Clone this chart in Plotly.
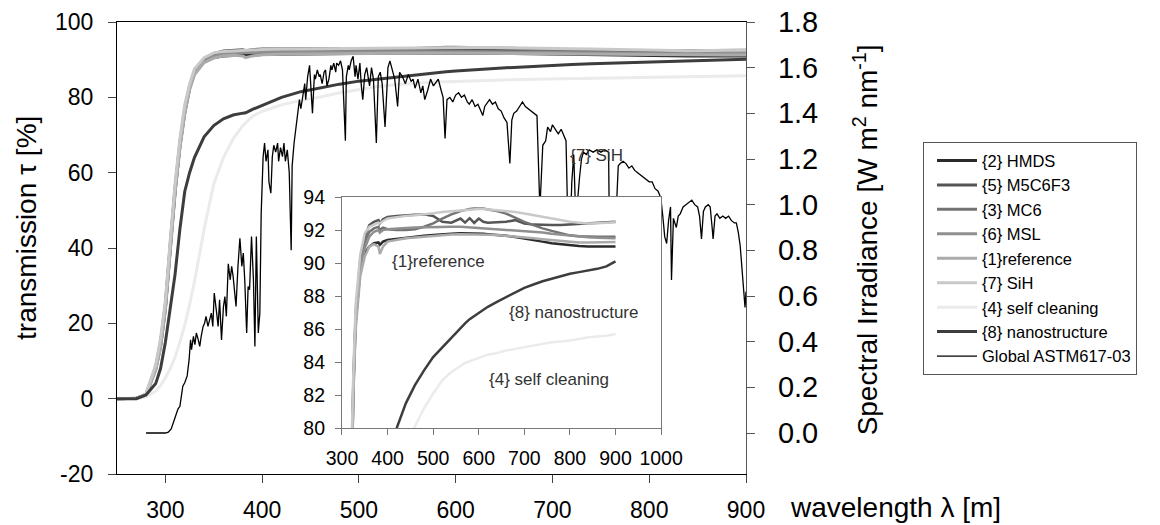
import plotly.graph_objects as go

# ---------------- data ----------------
wl_t = [250, 270, 280, 290, 295, 300, 305, 310, 315, 320, 325, 330, 340, 350, 360, 370, 380, 383, 390, 400,
        420, 440, 460, 480, 500, 520, 540, 560, 570, 580, 590, 600, 610, 620, 640, 660, 680, 700, 720, 740,
        760, 780, 800, 820, 840, 860, 880, 900]

t_hmds = [0, 0.1, 1, 8, 14, 24, 40, 55, 67, 76, 82.5, 86.5, 89.5, 90.6, 91.0, 91.2, 91.25, 91.1, 91.3, 91.4,
          91.47, 91.55, 91.6, 91.65, 91.7, 91.75, 91.78, 91.8, 91.8, 91.8, 91.8, 91.79, 91.77, 91.75, 91.72, 91.65, 91.58, 91.5, 91.4, 91.3,
          91.2, 91.13, 91.07, 91.03, 91.0, 91.0, 91.0, 91.0]
t_m5c6f3 = [0, 0.1, 1.2, 8.5, 15, 25, 41, 56, 68, 77, 83, 87, 90.2, 91.6, 92.3, 92.5, 92.6, 92.4, 92.65, 92.8,
            92.85, 92.9, 92.93, 92.95, 92.85, 92.5, 92.45, 92.7, 92.45, 92.72, 92.43, 92.7, 92.5, 92.45, 92.47, 92.5, 92.6, 92.4, 92.33, 92.3,
            92.3, 92.3, 92.33, 92.36, 92.4, 92.43, 92.47, 92.5]
t_mc6 = [0, 0.1, 1.1, 8, 14.5, 24.5, 40, 55.5, 67.5, 76.5, 82.8, 86.8, 89.9, 91.3, 91.9, 92.1, 92.2, 92.0, 92.15, 92.05,
         92.0, 92.0, 92.05, 92.2, 92.4, 92.7, 92.95, 93.15, 93.22, 93.27, 93.3, 93.32, 93.3, 93.25, 93.15, 93.0, 92.75, 92.5, 92.3, 92.1,
         91.95, 91.8, 91.68, 91.63, 91.6, 91.6, 91.6, 91.6]
t_msl = [0, 0.1, 1, 7.8, 14, 24, 39.5, 55, 67, 76, 82.3, 86.4, 89.6, 90.9, 91.6, 91.9, 92.0, 91.85, 92.0, 92.05,
         92.1, 92.12, 92.15, 92.17, 92.2, 92.2, 92.2, 92.2, 92.18, 92.17, 92.16, 92.15, 92.13, 92.1, 92.07, 92.04, 92.0, 91.95, 91.9, 91.85,
         91.78, 91.72, 91.65, 91.6, 91.56, 91.53, 91.5, 91.5]
t_ref = [0, 0.1, 0.9, 7.5, 13.5, 23.5, 39, 54.5, 66.5, 75.5, 82, 86, 89.2, 90.4, 91.0, 91.15, 91.0, 90.55, 91.0, 91.3,
         91.42, 91.5, 91.55, 91.6, 91.65, 91.7, 91.73, 91.75, 91.75, 91.75, 91.75, 91.75, 91.73, 91.72, 91.7, 91.66, 91.6, 91.55, 91.5, 91.45,
         91.4, 91.35, 91.28, 91.25, 91.25, 91.25, 91.26, 91.27]
t_sih = [0, 0.1, 1.3, 9, 16, 26, 42, 57, 69, 78, 83.5, 87.5, 90.5, 91.8, 92.2, 92.35, 92.45, 92.4, 92.55, 92.7,
         92.8, 92.86, 92.9, 92.95, 93.02, 93.1, 93.15, 93.2, 93.23, 93.26, 93.28, 93.28, 93.27, 93.25, 93.22, 93.18, 93.1, 93.0, 92.9, 92.8,
         92.7, 92.6, 92.5, 92.45, 92.4, 92.42, 92.45, 92.47]
t_self = [0, 0, 0.5, 2, 3.5, 5.5, 8, 11, 15, 19.5, 25, 31, 45, 57, 64, 69, 72.5, 73.2, 75, 76.3,
          78.0, 79.2, 80.1, 81.2, 82.1, 82.9, 83.4, 83.8, 83.95, 84.05, 84.15, 84.25, 84.35, 84.45, 84.55, 84.7, 84.8, 84.9, 85.0, 85.1,
          85.2, 85.25, 85.3, 85.4, 85.5, 85.55, 85.6, 85.7]
t_nano = [0, 0, 1, 4, 8, 15, 24, 33, 45, 55, 60, 64, 69.5, 72.5, 74.3, 75.3, 75.8, 75.9, 76.8, 77.8,
          80.0, 81.5, 82.6, 83.5, 84.3, 84.9, 85.5, 86.1, 86.35, 86.6, 86.8, 87.0, 87.2, 87.35, 87.65, 87.95, 88.25, 88.5, 88.7, 88.9,
          89.05, 89.2, 89.35, 89.45, 89.55, 89.65, 89.8, 90.1]

wl_sun = [280, 290, 300, 303, 306, 309.5, 313, 315, 318, 320, 322.5, 324.5, 326, 327, 329, 330.5, 332, 334, 335.5, 337,
          339, 340.5, 342, 344, 346, 347.5, 349, 350.5, 353, 354.5, 356, 358, 360, 361.5, 363, 365, 367, 368.5, 370, 371.5,
          373, 375, 377, 379, 380.5, 382, 384, 385.5, 387, 389, 391, 392.5, 394, 396, 397.6, 399, 401, 402.5, 404, 406,
          407, 409, 410.5, 412, 414, 416, 417, 419, 421, 422.5, 424, 426, 428, 430, 431, 433, 435, 437, 438.5, 440,
          442, 444, 445, 447, 449, 450.5, 452, 454, 455, 457, 459, 460, 462, 464, 465.5, 467, 469, 471, 472, 474,
          476, 477, 479, 481, 483, 486, 487, 489, 490, 492, 494, 496, 497, 499, 501, 502.5, 504, 506, 508, 509.5,
          511, 513, 515, 518, 520, 522, 524, 527, 530, 532, 535, 537, 540, 542, 545, 548, 551, 554, 556, 558,
          561, 564, 566, 568, 571, 574, 577, 580, 582, 585, 587, 589, 591, 594, 597, 600, 603, 606, 609, 612,
          614, 617, 620, 623, 625, 628, 630, 633, 635, 638, 641, 644, 647, 650, 653, 656, 658, 660, 663, 666,
          669, 672, 675, 678, 681, 684, 687, 690, 693, 695, 698, 700, 703, 706, 709, 712, 714, 716, 718, 720,
          722, 724, 726, 728, 730, 732, 735, 738, 742, 746, 750, 754, 758, 760, 763, 766, 768, 770, 773, 776,
          779, 782, 785, 788, 791, 794, 797, 800, 803, 806, 809, 812, 814, 816, 818, 820, 822, 823, 825, 828,
          830, 832, 835, 838, 841, 844, 847, 850, 852, 854, 856, 858, 861, 863, 865, 866, 868, 870, 873, 876,
          879, 882, 885, 888, 890, 892, 894, 896, 898, 899, 900]
irr_sun = [0.0, 0.0, 0.0, 0.004, 0.018, 0.061, 0.105, 0.117, 0.205, 0.22, 0.25, 0.32, 0.408, 0.365, 0.423, 0.387, 0.438, 0.408, 0.379, 0.423,
           0.467, 0.481, 0.511, 0.467, 0.496, 0.525, 0.467, 0.613, 0.525, 0.467, 0.583, 0.408, 0.554, 0.598, 0.511, 0.741, 0.671, 0.730, 0.686, 0.613,
           0.554, 0.730, 0.853, 0.730, 0.788, 0.671, 0.438, 0.642, 0.628, 0.861, 0.671, 0.379, 0.861, 0.438, 0.525, 0.963, 1.21, 1.27, 1.19, 1.24,
           1.10, 1.05, 1.21, 1.26, 1.23, 1.27, 1.19, 1.25, 1.21, 1.27, 1.19, 1.24, 1.14, 0.80, 1.17, 1.27, 1.34, 1.40, 1.46, 1.42,
           1.48, 1.53, 1.46, 1.56, 1.61, 1.52, 1.40, 1.57, 1.55, 1.59, 1.56, 1.57, 1.53, 1.58, 1.59, 1.52, 1.55, 1.61, 1.59, 1.62,
           1.58, 1.62, 1.61, 1.63, 1.59, 1.28, 1.56, 1.61, 1.59, 1.63, 1.65, 1.56, 1.61, 1.55, 1.62, 1.52, 1.46, 1.57, 1.60, 1.56,
           1.52, 1.60, 1.55, 1.27, 1.56, 1.58, 1.53, 1.34, 1.60, 1.63, 1.58, 1.55, 1.43, 1.58, 1.56, 1.53, 1.57, 1.54, 1.55, 1.51,
           1.55, 1.49, 1.52, 1.46, 1.50, 1.55, 1.52, 1.54, 1.55, 1.50, 1.47, 1.29, 1.46, 1.47, 1.45, 1.48, 1.49, 1.47, 1.48, 1.45,
           1.44, 1.46, 1.43, 1.44, 1.42, 1.39, 1.43, 1.45, 1.46, 1.44, 1.45, 1.42, 1.41, 1.38, 1.36, 1.18, 1.37, 1.40, 1.41, 1.43,
           1.45, 1.43, 1.42, 1.41, 1.40, 1.39, 0.98, 1.26, 1.28, 1.34, 1.32, 1.35, 1.33, 1.31, 1.33, 1.30, 1.28, 0.90, 0.85, 1.10,
           1.22, 0.95, 1.02, 1.12, 1.20, 1.23, 1.22, 1.24, 1.23, 1.24, 1.23, 1.24, 1.23, 0.40, 0.70, 1.00, 1.17, 1.18, 1.19, 1.18,
           1.16, 1.17, 1.15, 1.14, 1.13, 1.12, 1.11, 1.10, 1.10, 1.07, 1.06, 1.03, 0.95, 0.86, 0.83, 0.93, 0.99, 0.67, 0.94, 0.90,
           0.95, 0.96, 0.99, 1.00, 1.01, 1.02, 1.00, 0.99, 0.95, 0.85, 0.97, 0.99, 1.00, 0.99, 0.90, 0.85, 0.95, 0.96, 0.94, 0.95,
           0.94, 0.95, 0.93, 0.92, 0.92, 0.88, 0.82, 0.72, 0.60, 0.55, 0.62]

series_names = ["{2} HMDS", "{5} M5C6F3", "{3} MC6", "{6} MSL", "{1}reference", "{7} SiH",
                "{4} self cleaning", "{8} nanostructure"]
series_vals = [t_hmds, t_m5c6f3, t_mc6, t_msl, t_ref, t_sih, t_self, t_nano]
series_colors = ["#2b2b2b", "#555555", "#737373", "#8f8f8f", "#ababab", "#c9c9c9", "#ebebeb", "#3d3d3d"]

x_ticks = [300, 400, 500, 600, 700, 800, 900]
y_ticks = [-20, 0, 20, 40, 60, 80, 100]
y_ticktext = ["-20", "0", "20", "40", "60", "80", "100"]
y2_ticks = [0, 0.2, 0.4, 0.6, 0.8, 1.0, 1.2, 1.4, 1.6, 1.8]
inset_x_ticks = [300, 400, 500, 600, 700, 800, 900, 1000]
inset_y_ticks = [80, 82, 84, 86, 88, 90, 92, 94]

FONT = "Liberation Sans, Arial, sans-serif"

fig = go.Figure()

# main transmission curves
for name, vals, col in zip(series_names, series_vals, series_colors):
    fig.add_trace(go.Scatter(x=wl_t, y=vals, mode="lines", name=name,
                             line=dict(color=col, width=3), xaxis="x", yaxis="y"))

# irradiance on right axis
fig.add_trace(go.Scatter(x=wl_sun, y=irr_sun, mode="lines", name="Global ASTM617-03",
                         line=dict(color="black", width=1.3), xaxis="x", yaxis="y2"))

# inset curves
for name, vals, col in zip(series_names, series_vals, series_colors):
    fig.add_trace(go.Scatter(x=wl_t, y=vals, mode="lines", name=name, showlegend=False,
                             line=dict(color=col, width=2.5), xaxis="x2", yaxis="y3"))

axis_common = dict(showgrid=False, zeroline=False, ticks="outside", showline=True, automargin=False)

fig.update_layout(
    width=1160, height=525,
    margin=dict(l=117, r=414, t=22, b=51, autoexpand=False),
    paper_bgcolor="white", plot_bgcolor="white",
    font=dict(family=FONT, color="black"),
    xaxis=dict(domain=[0, 1], range=[250, 900], tickvals=x_ticks, ticklen=8, linecolor="black",
               linewidth=1.3, mirror=True, tickfont=dict(size=23), ticklabelstandoff=7,
               anchor="y", **axis_common),
    yaxis=dict(domain=[0, 1], range=[-20, 100], tickvals=y_ticks, ticktext=y_ticktext, ticklen=8,
               linecolor="black", linewidth=1.3, tickfont=dict(size=23), ticklabelstandoff=10,
               anchor="x", **axis_common),
    yaxis2=dict(overlaying="y", side="right", range=[-0.1795, 1.8], tickvals=y2_ticks,
                tickformat=".1f", ticklen=8, linecolor="#555555", linewidth=1.3, tickcolor="#555555",
                tickfont=dict(size=29), ticklabelstandoff=17, anchor="x", **axis_common),
    xaxis2=dict(domain=[0.3577, 0.865], range=[300, 1000], tickvals=inset_x_ticks, ticklen=6,
                linecolor="#777777", tickcolor="#777777", linewidth=1.2, mirror=True,
                tickfont=dict(size=19.5), ticklabelstandoff=6, anchor="y3", **axis_common),
    yaxis3=dict(domain=[0.1016, 0.6127], range=[80, 94], tickvals=inset_y_ticks, ticklen=6,
                linecolor="#777777", tickcolor="#777777", linewidth=1.2, mirror=True,
                tickfont=dict(size=19.5), ticklabelstandoff=6, anchor="x2", **axis_common),
    legend=dict(x=1.2814, y=0.734, xanchor="left", yanchor="top", font=dict(size=16.5),
                bordercolor="#555555", borderwidth=1, bgcolor="white", tracegroupgap=0,
                itemwidth=40, indentation=8),
    showlegend=True,
)

annotations = [
    dict(text="transmission \u03c4 [%]", xref="paper", yref="paper", x=-0.145, y=0.544,
         textangle=-90, showarrow=False, font=dict(size=28), xanchor="center", yanchor="middle"),
    dict(text="Spectral Irradiance [W m<sup>2</sup> nm<sup>-1</sup>]", xref="paper", yref="paper",
         x=1.19, y=0.518, textangle=-90, showarrow=False, font=dict(size=28),
         xanchor="center", yanchor="middle"),
    dict(text="wavelength \u03bb [m]", xref="paper", yref="paper", x=1.066, y=-0.0745,
         showarrow=False, font=dict(size=28), xanchor="left", yanchor="middle"),
    dict(text="{7} SiH", xref="x", yref="y", x=716.4, y=64.6, showarrow=False,
         font=dict(size=17, color="#333333"), xanchor="left", yanchor="middle"),
    dict(text="{1}reference", xref="x2", yref="y3", x=405.3, y=90.07, showarrow=False,
         font=dict(size=17, color="#333333"), xanchor="left", yanchor="middle"),
    dict(text="{8} nanostructure", xref="x2", yref="y3", x=661.4, y=86.98, showarrow=False,
         font=dict(size=17, color="#333333"), xanchor="left", yanchor="middle"),
    dict(text="{4} self cleaning", xref="x2", yref="y3", x=617.5, y=82.93, showarrow=False,
         font=dict(size=17, color="#333333"), xanchor="left", yanchor="middle"),
]
fig.update_layout(annotations=annotations)

fig.write_html("out.html", config={"displayModeBar": False},
               post_script="document.body.style.margin='0';document.body.style.padding='0';")
